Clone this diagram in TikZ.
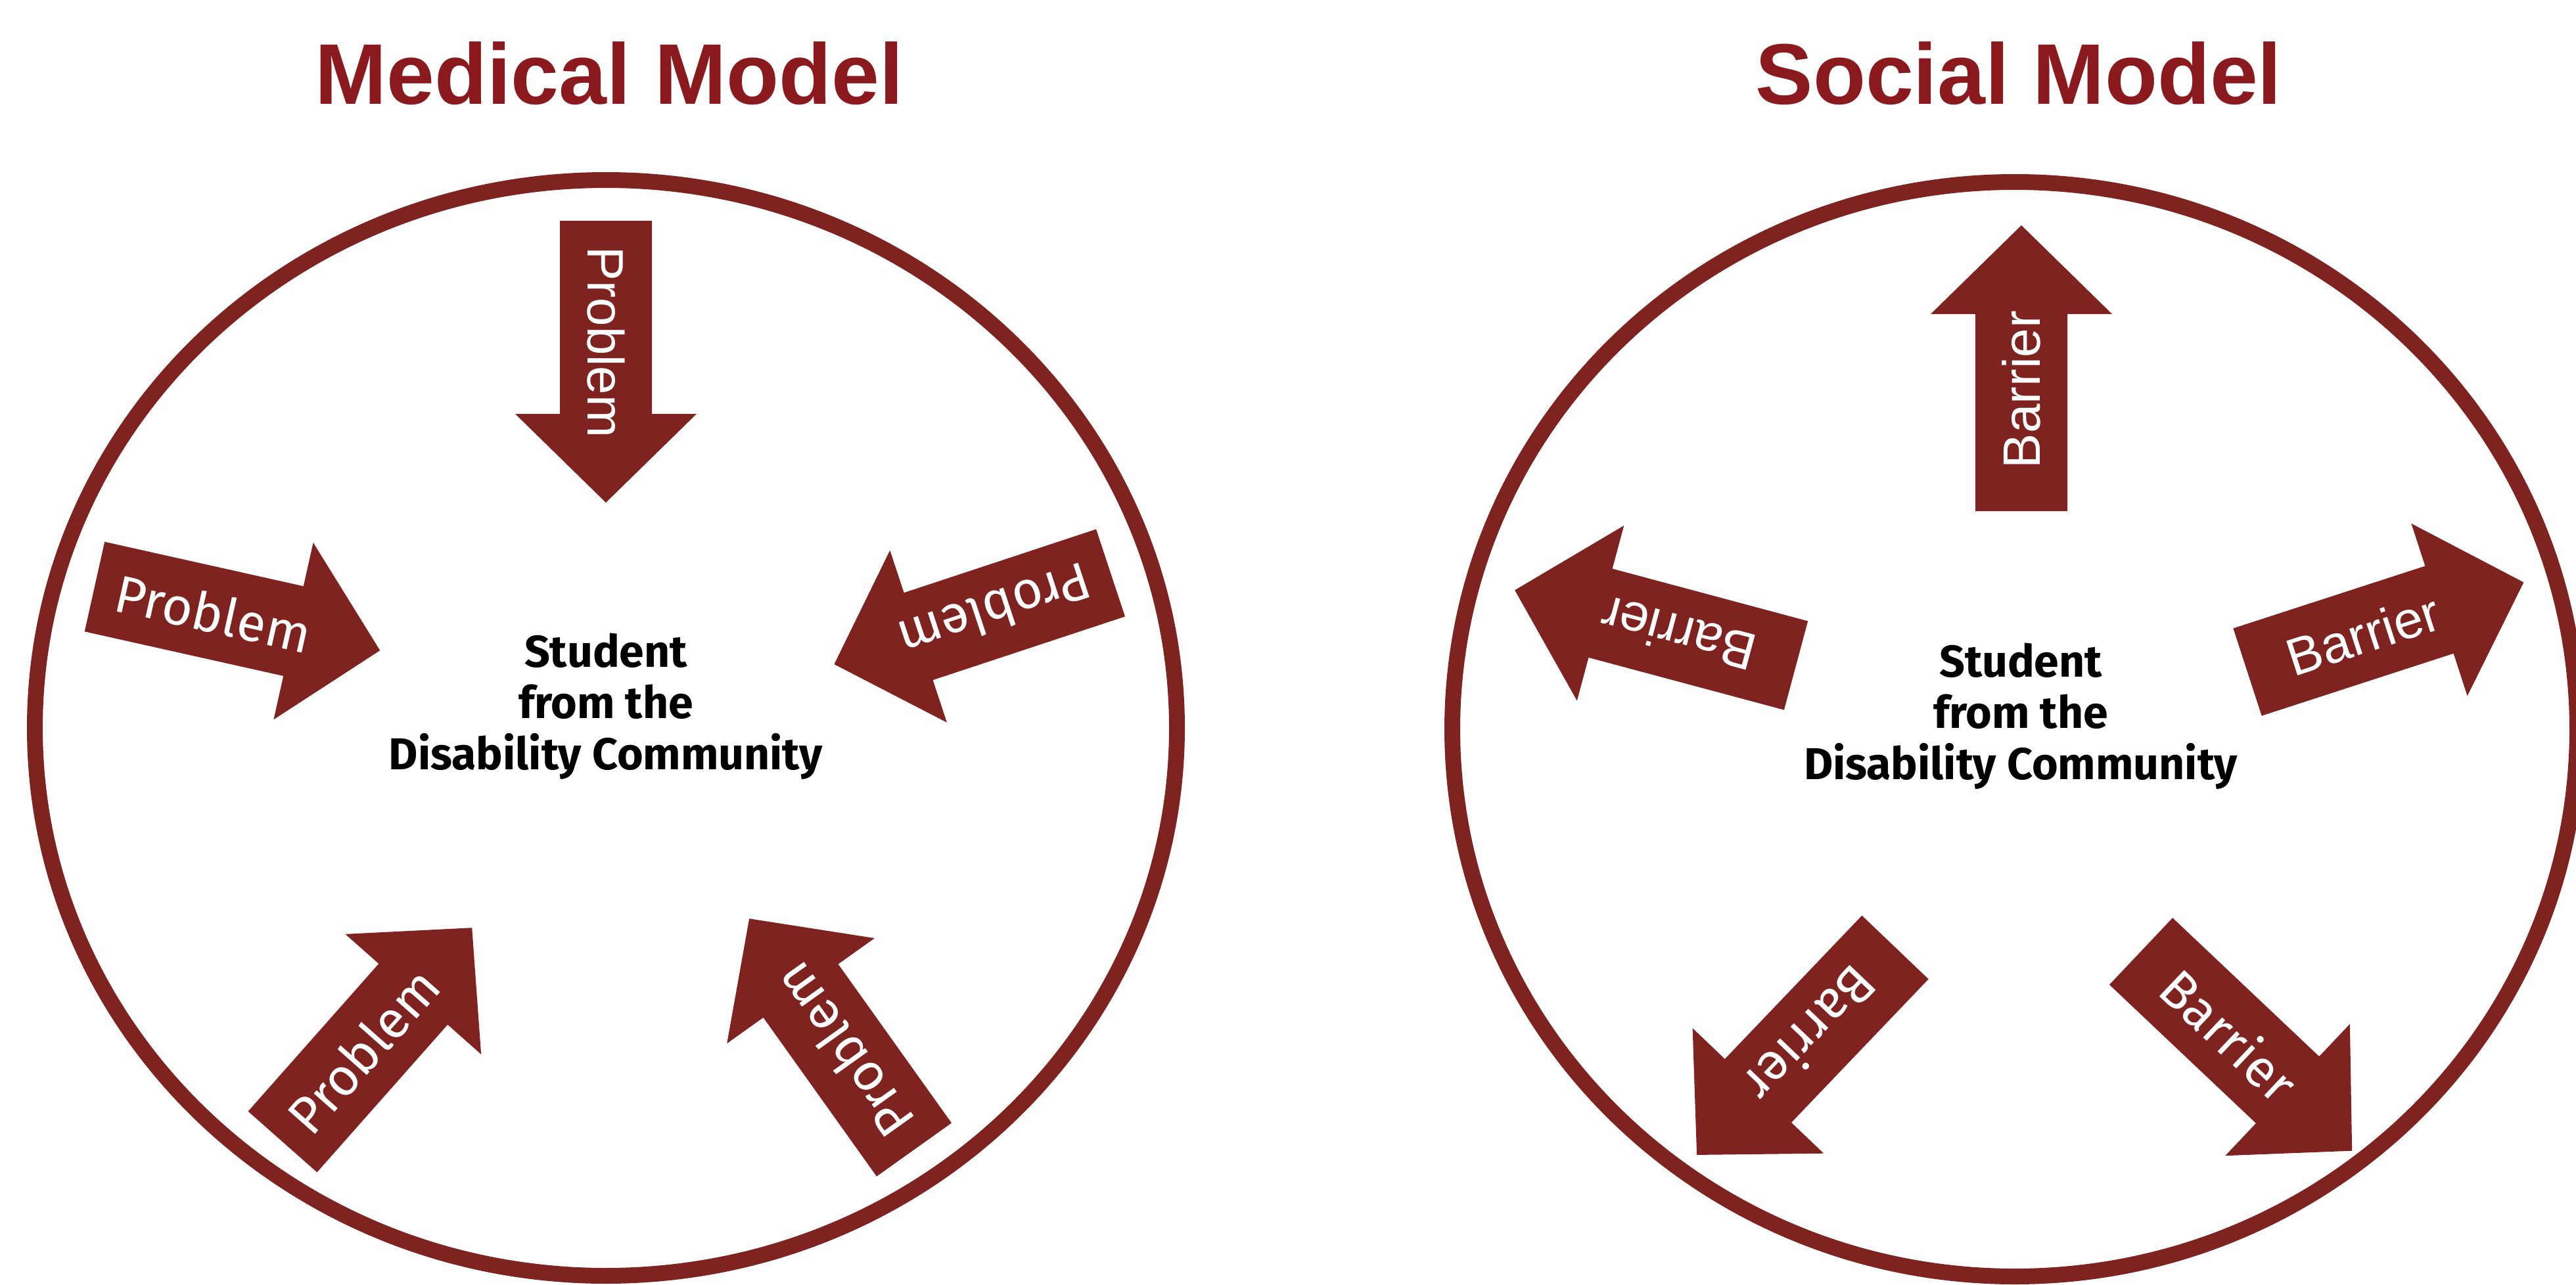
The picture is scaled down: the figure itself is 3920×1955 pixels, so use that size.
\documentclass[tikz,border=0pt]{standalone}
\usepackage{fontspec}
\setmainfont{Liberation Sans}
\newfontfamily\fira{Fira Sans}

\definecolor{arrowred}{RGB}{127,35,32}
\definecolor{titlered}{RGB}{139,26,30}

% Block arrow: #1 name of its label, #2 tail centre, #3 direction (deg),
% #4 total length, #5 font switch, #6 label text
\newcommand\blockarrow[6]{%
  \begin{scope}[shift={#2}, rotate=#3]
    \fill[arrowred] (0,70) -- ({#4-135},70) -- ({#4-135},138) -- (#4,0)
      -- ({#4-135},-138) -- ({#4-135},-70) -- (0,-70) -- cycle;
    \node[arrowlabel, rotate=#3] (#1) at (185,0) {#5#6};
  \end{scope}}

\tikzset{
  ring/.style={draw=arrowred, line width=24pt},
  modeltitle/.style={text=titlered, anchor=base, inner sep=0pt,
    font=\fontsize{131}{131}\selectfont\bfseries},
  arrowlabel/.style={text=white, inner sep=0pt},
  centretext/.style={align=center, inner sep=0pt, text=black,
    font=\fira\bfseries\fontsize{68}{78}\selectfont},
}
\newcommand\arial[1]{\fontsize{#1}{#1}\selectfont}
\newcommand\firasize[1]{\fira\fontsize{#1}{#1}\selectfont}

\begin{document}
\begin{tikzpicture}[x=1pt, y=-1pt]
  \useasboundingbox (0,0) rectangle (3920,1955);
  \fill[white] (0,0) rectangle (3920,1955);

  % headings
  \node[modeltitle] (medtitle) at (927,158) {Medical Model};
  \node[modeltitle] (soctitle) at (3072,158) {Social Model};

  % outer rings
  \draw[ring] (922,1108) ellipse [x radius=869pt, y radius=834pt];
  \draw[ring] (3066,1110) ellipse [x radius=856pt, y radius=833pt];

  % medical model: problems pointing in
  \blockarrow{mtop}{(922,336)}{-90}{429}{\arial{78}}{Problem}
  \blockarrow{mleft}{(144,893)}{-12.6}{445}{\firasize{80}}{Problem}
  \blockarrow{mright}{(1690,872)}{198.3}{443}{\firasize{80}}{Problem}
  \blockarrow{mbl}{(430,1738)}{48.5}{435}{\firasize{80}}{Problem}
  \blockarrow{mbr}{(1391,1750)}{125.5}{432}{\firasize{80}}{Problem}

  % social model: barriers pointing out
  \blockarrow{stop}{(3076,778)}{90}{435}{\arial{80}}{Barrier}
  \blockarrow{sul}{(2733,1013)}{165}{443}{\arial{80}}{Barrier}
  \blockarrow{sur}{(3420,1023)}{18}{442}{\arial{80}}{Barrier}
  \blockarrow{sbl}{(2884,1442)}{226.3}{437}{\firasize{80}}{Barrier}
  \blockarrow{sbr}{(3258,1448)}{-43.4}{442}{\firasize{80}}{Barrier}

  % the student at the centre of each model
  \node[centretext] (medstudent) at (922,1075)
    {Student\\from the\\Disability Community};
  \node[centretext] (socstudent) at (3075,1090)
    {Student\\from the\\Disability Community};
\end{tikzpicture}
\end{document}
